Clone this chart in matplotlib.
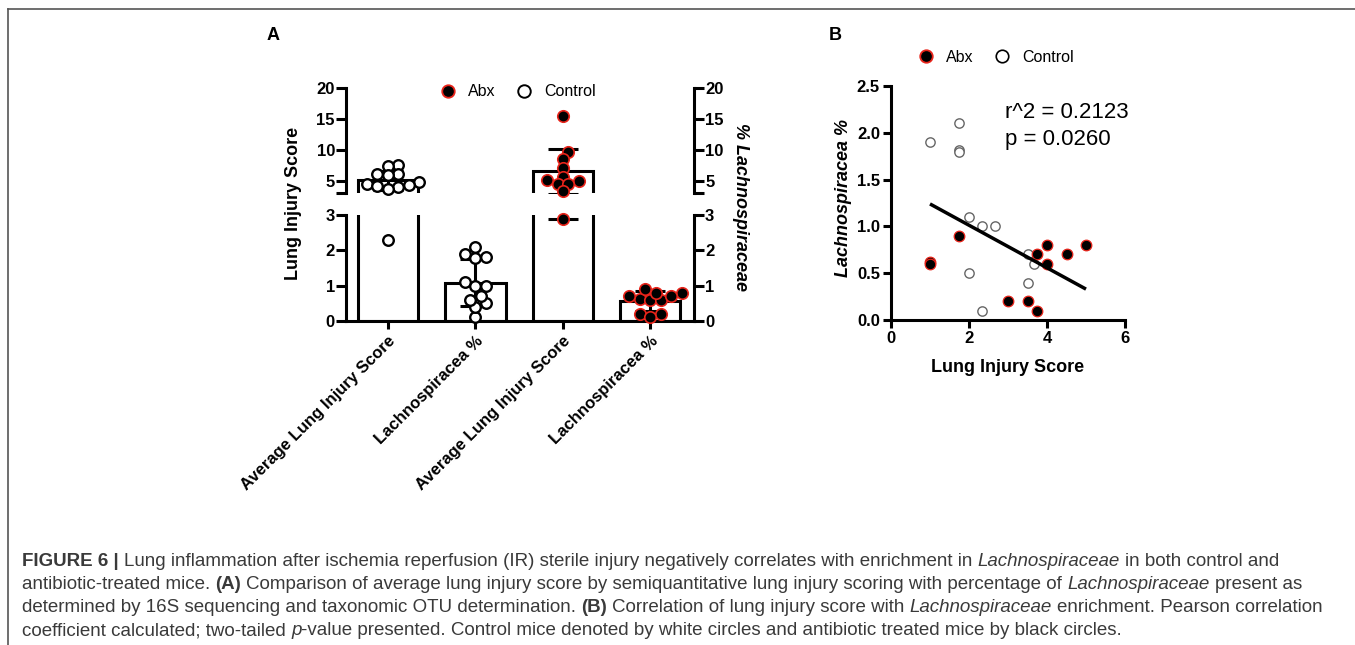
import numpy as np
import matplotlib
matplotlib.use("Agg")
import matplotlib.pyplot as plt
from matplotlib.lines import Line2D

# ---------------- data ----------------
bar_labels = ["Average Lung Injury Score", "Lachnospiracea %",
              "Average Lung Injury Score", "Lachnospiracea %"]
bar_groups = ["Control", "Control", "Abx", "Abx"]

# Panel A per-mouse values
ctrl_injury_avg = [7.6, 7.3, 6.1, 6.0, 5.9, 4.8, 4.5, 4.3, 4.1, 3.9, 3.6, 2.3]
abx_injury_avg = [15.5, 9.7, 8.5, 7.1, 5.6, 5.1, 5.0, 4.5, 4.4, 3.3, 2.9]

# Panel B (and A Lachnospiraceae %) per-mouse values
ctrl_score = [1.0, 1.75, 1.75, 1.75, 2.0, 2.0, 2.33, 2.67, 2.33, 3.5, 3.5, 3.67]
ctrl_lachno = [1.9, 2.1, 1.82, 1.79, 1.1, 0.5, 1.0, 1.0, 0.1, 0.7, 0.4, 0.6]
abx_score = [1.0, 1.0, 1.75, 3.0, 3.5, 3.75, 3.75, 4.0, 4.0, 4.5, 5.0]
abx_lachno = [0.62, 0.6, 0.9, 0.2, 0.2, 0.1, 0.7, 0.8, 0.6, 0.7, 0.8]

fit_x = [1.0, 5.0]
fit_y = [1.24, 0.33]
r2_text = "r^2 = 0.2123"
p_text = "p = 0.0260"

a_low_ticks = [0, 1, 2, 3]
a_high_ticks = [3, 5, 10, 15, 20]
a_high_ticklabels = ["", "5", "10", "15", "20"]
b_xticks = [0, 2, 4, 6]
b_yticks = [0.0, 0.5, 1.0, 1.5, 2.0, 2.5]

caption_lines = [
    [("FIGURE 6 |", "b"), (" Lung inflammation after ischemia reperfusion (IR) sterile injury negatively correlates with enrichment in ", "n"),
     ("Lachnospiraceae", "i"), (" in both control and", "n")],
    [("antibiotic-treated mice. ", "n"), ("(A)", "b"),
     (" Comparison of average lung injury score by semiquantitative lung injury scoring with percentage of ", "n"),
     ("Lachnospiraceae", "i"), (" present as", "n")],
    [("determined by 16S sequencing and taxonomic OTU determination. ", "n"), ("(B)", "b"),
     (" Correlation of lung injury score with ", "n"), ("Lachnospiraceae", "i"),
     (" enrichment. Pearson correlation", "n")],
    [("coefficient calculated; two-tailed ", "n"), ("p", "i"),
     ("-value presented. Control mice denoted by white circles and antibiotic treated mice by black circles.", "n")],
]

# ---------------- style ----------------
W, H = 1355, 645
RED = "#e8241a"
LW = 2.2
plt.rcParams["font.family"] = ["Liberation Sans", "DejaVu Sans"]

fig = plt.figure(figsize=(W / 100, H / 100), dpi=100)


def fx(px):
    return px / W


def fy(py):
    return 1 - py / H


def make_axes(left, top, right, bottom):
    return fig.add_axes([fx(left), fy(bottom), fx(right - left), (bottom - top) / H])


# ---------------- Panel A (broken axis) ----------------
ax_lo = make_axes(346, 215, 694, 321)
ax_hi = make_axes(346, 88, 694, 193)

bar_data = [ctrl_injury_avg, ctrl_lachno, abx_injury_avg, abx_lachno]
means = [float(np.mean(v)) for v in bar_data]
sds = [float(np.std(v, ddof=1)) for v in bar_data]
xpos = np.arange(len(bar_labels))

for ax, (lo, hi) in ((ax_lo, (0, 3)), (ax_hi, (3, 20))):
    ax.set_xlim(-0.48, 3.5)
    ax.set_ylim(lo, hi)
    ax.bar(xpos, means, width=0.69, color="white", edgecolor="black", linewidth=LW, zorder=1)
    ax.errorbar(xpos, means, yerr=sds, fmt="none", ecolor="black", elinewidth=LW,
                capsize=11, capthick=LW, zorder=2)
    ax.spines["top"].set_visible(False)
    for s in ("left", "right", "bottom"):
        ax.spines[s].set_linewidth(LW)
    ax.tick_params(axis="y", which="both", left=True, right=True, labelleft=True, labelright=True,
                   direction="out", length=7, width=LW, pad=1, labelsize=12)

ax_hi.spines["bottom"].set_visible(False)
ax_hi.set_xticks([])
ax_hi.set_yticks(a_high_ticks)
ax_hi.set_yticklabels(a_high_ticklabels, fontweight="bold", fontsize=12)
ax_lo.set_yticks(a_low_ticks)
ax_lo.set_yticklabels([str(t) for t in a_low_ticks], fontweight="bold", fontsize=12)
ax_lo.set_xticks(xpos)
ax_lo.set_xticklabels(bar_labels, rotation=45, ha="right", va="top", rotation_mode="anchor",
                      fontweight="bold", fontsize=12)
ax_lo.tick_params(axis="x", direction="out", length=6, width=LW, pad=3)

# swarm layout for points
px_per_unit = ax_lo.transData.transform((1, 0))[0] - ax_lo.transData.transform((0, 0))[0]


def ypix(v, xc):
    a = ax_hi if v > 3 else ax_lo
    return a.transData.transform((xc, v))[1]


def swarm_offsets(vals, xc, diam):
    ys = [ypix(v, xc) for v in vals]
    order = np.argsort(ys)
    offs = np.zeros(len(vals))
    placed = []
    cands = [0.0]
    for k in range(1, 30):
        cands += [k * diam * 0.5, -k * diam * 0.5]
    for i in order:
        y = ys[i]
        chosen = cands[-1]
        for c in cands:
            if all((c - qx) ** 2 + (y - qy) ** 2 >= (diam * 0.8) ** 2 for qx, qy in placed):
                chosen = c
                break
        placed.append((chosen, y))
        offs[i] = chosen / px_per_unit
    return offs


for i, vals in enumerate(bar_data):
    vals = np.array(vals)
    offs = swarm_offsets(vals, xpos[i], 10.5)
    xs = xpos[i] + offs
    if bar_groups[i] == "Control":
        kw = dict(s=58, facecolor="white", edgecolor="black", linewidths=1.7)
    else:
        kw = dict(s=68, facecolor="black", edgecolor=RED, linewidths=1.2)
    hi_mask = vals > 3
    ax_hi.scatter(xs[hi_mask], vals[hi_mask], zorder=3, clip_on=False, **kw)
    ax_lo.scatter(xs[~hi_mask], vals[~hi_mask], zorder=3, clip_on=False, **kw)

fig.text(fx(293), fy(203), "Lung Injury Score", rotation=90, ha="center", va="center",
         fontsize=13, fontweight="bold")
fig.text(fx(741), fy(207), "% Lachnospiraceae", rotation=270, ha="center", va="center",
         fontsize=13, fontweight="bold", fontstyle="italic")
fig.text(fx(273), fy(35), "A", ha="center", va="center", fontsize=13, fontweight="bold")

h_abx = Line2D([], [], ls="", marker="o", markersize=9, markerfacecolor="black",
               markeredgecolor=RED, markeredgewidth=1.3)
h_ctrl = Line2D([], [], ls="", marker="o", markersize=9, markerfacecolor="white",
                markeredgecolor="black", markeredgewidth=1.4)
ax_hi.legend([h_abx, h_ctrl], ["Abx", "Control"], loc="center left",
             bbox_to_anchor=(fx(440), fy(92)), bbox_transform=fig.transFigure,
             ncol=2, frameon=False, fontsize=11.5, handlelength=1.0,
             handletextpad=0.75, columnspacing=1.3, borderpad=0, borderaxespad=0)

# ---------------- Panel B ----------------
axb = make_axes(891, 86, 1125, 320)
axb.set_xlim(0, 6)
axb.set_ylim(0, 2.5)
axb.scatter(ctrl_score, ctrl_lachno, s=45, facecolor="white", edgecolor="#666666",
            linewidths=1.0, zorder=3, clip_on=False)
axb.scatter(abx_score, abx_lachno, s=58, facecolor="black", edgecolor=RED,
            linewidths=0.9, zorder=4, clip_on=False)
axb.plot(fit_x, fit_y, color="black", lw=LW + 0.3, zorder=5, solid_capstyle="butt")
for s in ("top", "right"):
    axb.spines[s].set_visible(False)
for s in ("left", "bottom"):
    axb.spines[s].set_linewidth(LW)
axb.set_xticks(b_xticks)
axb.set_xticklabels([str(t) for t in b_xticks], fontweight="bold", fontsize=12)
axb.set_yticks(b_yticks)
axb.set_yticklabels([f"{t:.1f}" for t in b_yticks], fontweight="bold", fontsize=12)
axb.tick_params(direction="out", length=6, width=LW, pad=2)
fig.text(fx(1008), fy(368), "Lung Injury Score", ha="center", va="center",
         fontsize=13, fontweight="bold")
fig.text(fx(843), fy(198), "Lachnospiracea %", rotation=90, ha="center", va="center",
         fontsize=13, fontweight="bold", fontstyle="italic")
fig.text(fx(1005), fy(118), r2_text, ha="left", va="baseline", fontsize=16)
fig.text(fx(1005), fy(145), p_text, ha="left", va="baseline", fontsize=16)
fig.text(fx(835), fy(35), "B", ha="center", va="center", fontsize=13, fontweight="bold")

h_abx_b = Line2D([], [], ls="", marker="o", markersize=9, markerfacecolor="black",
                 markeredgecolor=RED, markeredgewidth=1.3)
h_ctrl_b = Line2D([], [], ls="", marker="o", markersize=9, markerfacecolor="white",
                  markeredgecolor="black", markeredgewidth=1.2)
axb.legend([h_abx_b, h_ctrl_b], ["Abx", "Control"], loc="center left",
           bbox_to_anchor=(fx(918), fy(57)), bbox_transform=fig.transFigure,
           ncol=2, frameon=False, fontsize=11.5, handlelength=1.0,
           handletextpad=0.75, columnspacing=1.3, borderpad=0, borderaxespad=0)

# ---------------- frame ----------------
fig.add_artist(Line2D([fx(8), fx(8)], [0, fy(9)], transform=fig.transFigure, color="#555555", lw=1.2))
fig.add_artist(Line2D([fx(8), 1], [fy(9), fy(9)], transform=fig.transFigure, color="#555555", lw=1.2))

# ---------------- caption ----------------
renderer = fig.canvas.get_renderer()
CAP_FAMILY = ["Liberation Sans", "DejaVu Sans"]
CAP_COLOR = "#3a3a3a"


def style_kw(st):
    return dict(fontweight="bold" if st == "b" else "normal",
                fontstyle="italic" if st == "i" else "normal")


def text_width(s, size, st):
    t = fig.text(0, 0, s, fontsize=size, family=CAP_FAMILY, **style_kw(st))
    w = t.get_window_extent(renderer).width
    t.remove()
    return w


def run_width(s, size, st):
    core = s.strip(" ")
    lead = len(s) - len(s.lstrip(" "))
    trail = len(s) - len(s.rstrip(" "))
    sp = text_width("a a", size, st) - text_width("aa", size, st)
    return (text_width(core, size, st) if core else 0), lead * sp, trail * sp


def line_width(runs, size):
    tot = 0
    for s, st in runs:
        c, l, t = run_width(s, size, st)
        tot += c + l + t
    return tot


base = 10.0
cap_size = base * 1268 / line_width(caption_lines[0], base)
cap_size = min(cap_size, 14.0)
baselines = [566, 589, 612, 635]
for runs, yb in zip(caption_lines, baselines):
    x = 22.0
    for s, st in runs:
        c, l, t = run_width(s, cap_size, st)
        x += l
        core = s.strip(" ")
        if core:
            fig.text(fx(x), fy(yb), core, fontsize=cap_size, family=CAP_FAMILY, color=CAP_COLOR,
                     ha="left", va="baseline", **style_kw(st))
        x += c + t

fig.savefig("out.png", dpi=100)
